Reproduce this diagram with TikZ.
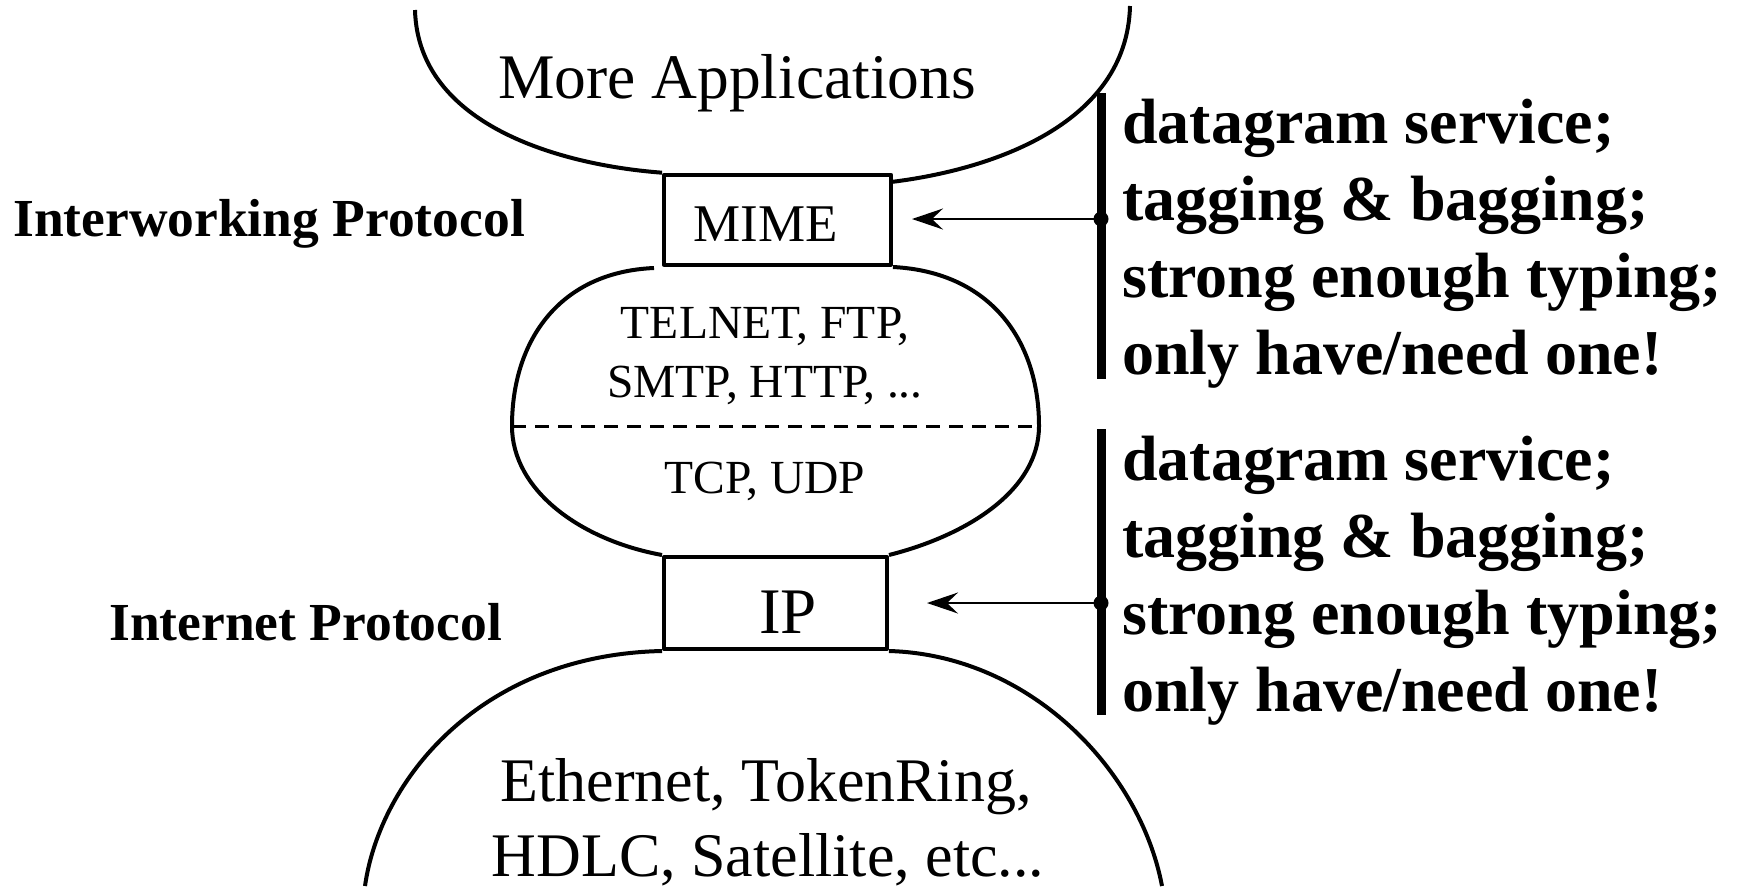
\documentclass[tikz,border=0pt]{standalone}
\usepackage{fontspec}
\setmainfont{Liberation Serif}
\usetikzlibrary{arrows.meta}
\begin{document}
\begin{tikzpicture}[x=1pt,y=-1pt,line join=round,
  outline/.style={line width=4pt},
  layerbox/.style={draw,line width=4pt,rectangle,inner sep=0pt},
  lbl/.style={inner sep=0pt,anchor=base},
  note/.style={inner sep=0pt,anchor=base west,font=\fontsize{64}{77}\selectfont\bfseries},
  side/.style={inner sep=0pt,anchor=base west,font=\fontsize{53.5}{64}\selectfont\bfseries},
  bar/.style={line width=9pt},
  joint/.style={circle,fill,inner sep=0pt,minimum size=15pt},
  pointer/.style={line width=2pt,-{Stealth[length=31pt,width=21pt,inset=11pt]}}]
\useasboundingbox (0,0) rectangle (1737,886);

% protocol boxes
\node[layerbox,minimum width=227pt,minimum height=90pt] (mimebox) at (777.5,219.7) {};
\node[layerbox,minimum width=223pt,minimum height=92pt] (ipbox) at (775.5,603) {};
\node[lbl,font=\fontsize{53}{64}\selectfont] (mime) at (766,241) {MIME};
\node[lbl,font=\fontsize{65}{78}\selectfont] (ip) at (788,633) {IP};

% upper bowl: applications
\draw[outline] (415,10) .. controls (418,125) and (560,165) .. (mimebox.north west);
\draw[outline] (1130,6) .. controls (1127,125) and (990,170) .. (891,182);
\node[lbl,font=\fontsize{63.5}{76}\selectfont] (apps) at (737,98) {More Applications};

% middle blob: application and transport protocols
\draw[outline] (654,268) .. controls (560,272) and (512,340) .. (512,426)
  .. controls (512,490) and (580,540) .. (ipbox.north west);
\draw[outline] (893,267) .. controls (990,272) and (1039,340) .. (1039,426)
  .. controls (1039,490) and (968,535) .. (ipbox.north east);
\draw[line width=3pt,dash pattern=on 14pt off 9pt] (512,426) -- (1039,426);
\node[lbl,font=\fontsize{47.5}{57}\selectfont] (app1) at (765,338) {TELNET, FTP,};
\node[lbl,font=\fontsize{47.5}{57}\selectfont] (app2) at (765,397) {SMTP, HTTP, ...};
\node[lbl,font=\fontsize{47.5}{57}\selectfont] (tcp) at (765,493) {TCP, UDP};

% lower bowl: link layers
\draw[outline] (ipbox.south west) .. controls (480,655) and (380,780) .. (365,886);
\draw[outline] (ipbox.south east) .. controls (1030,655) and (1140,770) .. (1162,886);
\node[lbl,font=\fontsize{62}{74}\selectfont] (link1) at (766,801) {Ethernet, TokenRing,};
\node[lbl,font=\fontsize{62}{74}\selectfont] (link2) at (768,876) {HDLC, Satellite, etc...};

% side labels
\node[side] (iwp) at (13,236) {Interworking Protocol};
\node[side] (inp) at (109,640) {Internet Protocol};

% property lists with pointers
\draw[bar] (1101,93) -- (1101,379);
\draw[bar] (1101,429) -- (1101,715);
\node[joint] (dot1) at (1101,219) {};
\node[joint] (dot2) at (1101,603) {};
\coordinate (tip1) at (912,219);
\coordinate (tip2) at (927,603);
\draw[pointer] (dot1.center) -- (tip1);
\draw[pointer] (dot2.center) -- (tip2);

\node[note] (a1) at (1122,143) {datagram service;};
\node[note] (a2) at (1122,220) {tagging \& bagging;};
\node[note] (a3) at (1122,297) {strong enough typing;};
\node[note] (a4) at (1122,374) {only have/need one!};
\node[note] (b1) at (1122,480) {datagram service;};
\node[note] (b2) at (1122,557) {tagging \& bagging;};
\node[note] (b3) at (1122,634) {strong enough typing;};
\node[note] (b4) at (1122,711) {only have/need one!};
\end{tikzpicture}
\end{document}
